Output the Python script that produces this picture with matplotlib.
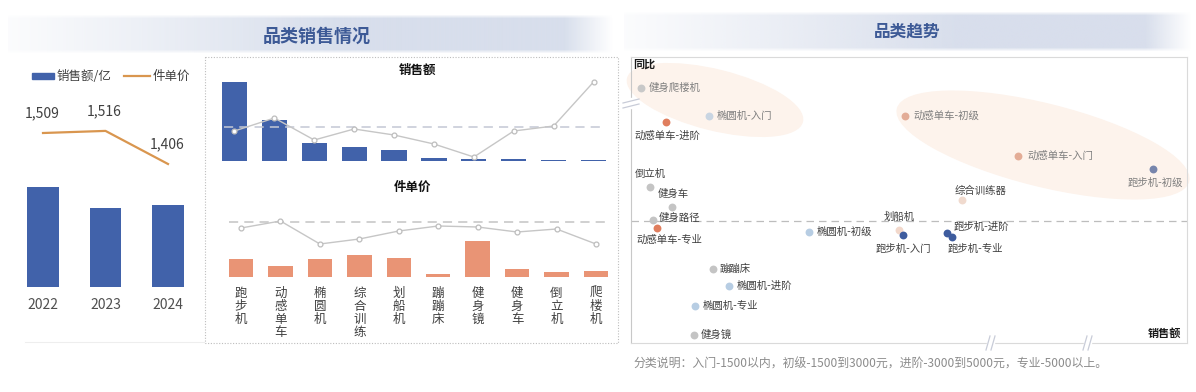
"""
Category sales dashboard: yearly totals, per-category sales/unit price, and trend scatter.
"""
import numpy as np
import matplotlib
matplotlib.use('Agg')
import matplotlib.pyplot as plt
from matplotlib.patches import Ellipse, Rectangle
from matplotlib.lines import Line2D
from matplotlib.transforms import Affine2D
from matplotlib.colors import to_rgb

plt.rcParams['font.family'] = ['Noto Sans CJK SC', 'DejaVu Sans']

# === Colors ===
BLUE = '#4162AA'
ORANGE = '#D9964F'
SALMON = '#E99475'
TITLE = '#3D5A96'
DARK = '#404040'
GREY_LINE = '#C6C6C6'

# === Data ===
years = ['2022', '2023', '2024']
year_sales = [50.0, 39.5, 41.0]          # 亿
year_price = [1509, 1516, 1406]          # 件单价

categories = ['跑步机', '动感单车', '椭圆机', '综合训练', '划船机',
              '蹦蹦床', '健身镜', '健身车', '倒立机', '爬楼机']
cat_sales = [18.7, 9.7, 4.3, 3.3, 2.6, 0.7, 0.5, 0.5, 0.35, 0.35]
cat_sales_yoy = [-4, 9, -13, -2, -8, -17, -30, -4, 1, 45]
cat_price = [2200, 1300, 2200, 2650, 2300, 380, 4300, 950, 600, 700]
cat_price_yoy = [-6, 1, -22, -17, -9, -4, -5, -10, -7, -22]

seg_names = ['健身爬楼机', '椭圆机-入门', '动感单车-进阶', '倒立机', '健身车',
             '健身路径', '动感单车-专业', '划船机', '跑步机-入门', '椭圆机-初级',
             '蹦蹦床', '椭圆机-进阶', '椭圆机-专业', '健身镜', '动感单车-初级',
             '动感单车-入门', '跑步机-初级', '综合训练器', '跑步机-进阶', '跑步机-专业']
seg_sales = [0.18, 1.40, 0.63, 0.34, 0.74, 0.40, 0.47, 4.82, 4.89, 3.20,
             1.47, 1.76, 1.15, 1.13, 4.93, 6.96, 9.39, 5.95, 5.68, 5.77]
seg_yoy = [66.5, 52.5, 49.5, 17, 7, 0.5, -3.5, -4.5, -7, -5.5,
           -24, -32.5, -42.5, -57, 52.5, 32.5, 26, 10.5, -6, -8]

# === Styles for scatter labels: (dot colour, text colour, dx, dy, ha) ===
G, LB, SA, DB = '#C4C4C4', '#B7CDE3', '#E07E5E', '#3E5C9E'
SEG_STYLE = {
    '健身爬楼机': ('#C8C8C8', '#7F7F7F', 8, 0, 'left'),
    '椭圆机-入门': ('#C9D5E2', '#7F7F7F', 8, 0, 'left'),
    '动感单车-进阶': (SA, DARK, 1, -14, 'center'),
    '倒立机': (G, DARK, 0, 13, 'center'),
    '健身车': (G, DARK, 1, 13, 'center'),
    '健身路径': (G, DARK, 5, 2, 'left'),
    '动感单车-专业': (SA, DARK, 12, -12, 'center'),
    '划船机': ('#F2D8CB', DARK, 0, 13, 'center'),
    '跑步机-入门': (DB, DARK, 1, -14, 'center'),
    '椭圆机-初级': (LB, DARK, 8, 0, 'left'),
    '蹦蹦床': (G, DARK, 7, 0, 'left'),
    '椭圆机-进阶': (LB, DARK, 8, 0, 'left'),
    '椭圆机-专业': (LB, DARK, 8, 0, 'left'),
    '健身镜': (G, DARK, 7, 0, 'left'),
    '动感单车-初级': ('#E3AC96', '#7F7F7F', 8, 0, 'left'),
    '动感单车-入门': ('#E3AC96', '#7F7F7F', 9, 0, 'left'),
    '跑步机-初级': ('#7785AC', '#7F7F7F', 2, -14, 'center'),
    '综合训练器': ('#F0DACE', DARK, 19, 9, 'center'),
    '跑步机-进阶': (DB, DARK, 7, 6, 'left'),
    '跑步机-专业': (DB, DARK, -4, -12, 'left'),
}

# === Figure ===
W, H = 1196, 392
fig = plt.figure(figsize=(W / 100, H / 100), dpi=100, facecolor='white')
PX = Affine2D().scale(1 / W, -1 / H).translate(0, 1) + fig.transFigure


def px_axes(x0, y0, x1, y1, **kw):
    return fig.add_axes([x0 / W, 1 - y1 / H, (x1 - x0) / W, (y1 - y0) / H], **kw)


def clean(ax):
    for s in ax.spines.values():
        s.set_visible(False)
    ax.set_yticks([])


# --- header bands ---
def header(x0, y0, x1, y1, text, tx, ty, size, peak):
    ax = px_axes(x0, y0, x1, y1, zorder=-5)
    n = 300
    t = np.linspace(0, 1, n)
    ax_x = np.clip(np.minimum(0.1 + t / peak, (1 - t) / 0.08), 0, 1)
    tv = np.linspace(0, 1, 40)
    ax_y = np.clip(np.minimum(tv / 0.1, (1 - tv) / 0.1), 0, 1)
    img = np.zeros((40, n, 4))
    img[..., :3] = to_rgb('#D4DBEA')
    img[..., 3] = 0.9 * np.outer(ax_y, ax_x)
    ax.imshow(img, aspect='auto', extent=(0, 1, 0, 1))
    ax.axis('off')
    fig.text(tx / W, 1 - ty / H, text, ha='center', va='center',
             fontsize=size, fontweight='bold', color=TITLE)


header(8, 14, 614, 54, '品类销售情况', 317, 36, 13, 0.6)
header(624, 11, 1192, 52, '品类趋势', 907, 32, 12, 0.65)

# --- left: yearly bars + price line ---
ax1 = px_axes(11.75, 90, 199.25, 287)
xy = np.arange(len(years))
ax1.bar(xy, year_sales, width=0.51, color=BLUE)
ax1.set_xlim(-0.5, 2.5)
ax1.set_ylim(0, 98.5)
clean(ax1)
ax1.set_xticks(xy, years)
ax1.tick_params(axis='x', length=0, pad=8, labelsize=10, labelcolor='#505050')

ax1b = ax1.twinx()
ax1b.plot(xy, year_price, color=ORANGE, lw=1.6)
ax1b.set_ylim(997, 1652)
ax1b.axis('off')
for xi, v in zip(xy, year_price):
    ax1b.annotate(f'{v:,}', (xi, v), xytext=(-1, 20), textcoords='offset pixels',
                  ha='center', va='center', fontsize=10, color=DARK)

fig.add_artist(Rectangle((32, 73), 22, 6, transform=PX, color=BLUE))
fig.text(57 / W, 1 - 76 / H, '销售额/亿', ha='left', va='center', fontsize=9, color=DARK)
fig.add_artist(Line2D([124, 150], [76, 76], transform=PX, color=ORANGE, lw=1.6))
fig.text(153 / W, 1 - 76 / H, '件单价', ha='left', va='center', fontsize=9, color=DARK)
fig.add_artist(Line2D([25, 204], [342, 342], transform=PX, color='#EEEEEE', lw=0.8))

# --- middle: per-category sales ---
xc = np.arange(len(categories))
axt = px_axes(214.5, 78, 613.5, 161)
axt.bar(xc, cat_sales, width=0.63, color=BLUE)
axt.set_xlim(-0.5, 9.5)
axt.set_ylim(0, 19.65)
clean(axt)
axt.set_xticks([])
axt2 = axt.twinx()
axt2.plot([-0.25, 9.25], [0, 0], ls=(0, (6, 4)), color='#C4C8D4', lw=1.1)
axt2.plot(xc, cat_sales_yoy, color=GREY_LINE, lw=1, marker='o', ms=3.5,
          mfc='white', mec='#BDBDBD', mew=0.9)
axt2.set_ylim(-34, 49)
axt2.axis('off')
fig.text(418 / W, 1 - 70 / H, '销售额', ha='center', va='center', fontsize=9,
         fontweight='bold', color='#111111')

# --- middle: per-category unit price ---
axb = px_axes(221.3, 200, 615.7, 277)
axb.bar(xc, cat_price, width=0.62, color=SALMON)
axb.set_xlim(-0.5, 9.5)
axb.set_ylim(0, 9240)
clean(axb)
axb.set_xticks(xc, ['\n'.join(c) for c in categories])
axb.tick_params(axis='x', length=0, pad=7, labelsize=9, labelcolor=DARK)
for lab in axb.get_xticklabels():
    lab.set_linespacing(1.0)
    lab.set_verticalalignment('top')
axb2 = axb.twinx()
axb2.plot([-0.3, 9.25], [0, 0], ls=(0, (6, 4)), color='#C4C4C4', lw=1.1)
axb2.plot(xc, cat_price_yoy, color=GREY_LINE, lw=1, marker='o', ms=3.5,
          mfc='white', mec='#BDBDBD', mew=0.9)
axb2.set_ylim(-55, 22)
axb2.axis('off')
fig.text(413 / W, 1 - 187 / H, '件单价', ha='center', va='center', fontsize=9,
         fontweight='bold', color='#111111')

fig.add_artist(Rectangle((205, 57), 413, 286, transform=PX, fill=False,
                         ls=(0, (1, 1.5)), ec='#BDBDBD', lw=0.8))

# --- right: trend scatter ---
axs = px_axes(631, 57, 1187, 343)
axs.set_xlim(0, 10)
axs.set_ylim(-61, 82)
axs.set_xticks([])
axs.set_yticks([])
for s in axs.spines.values():
    s.set_color('#DADADA')
    s.set_linewidth(0.8)
axs.spines['left'].set_color('#C8C8C8')
axs.axhline(0, ls=(0, (6, 4)), color='#BDBDBD', lw=0.9, zorder=1)

for (cx, cy, w, h) in [(715, 100, 180, 60), (1043, 145, 300, 82)]:
    axs.add_patch(Ellipse((cx, cy), w, h, angle=14, transform=PX,
                          color='#FDF3EC', zorder=0, clip_on=False))

for name, sx, sy in zip(seg_names, seg_sales, seg_yoy):
    col, tcol, dx, dy, ha = SEG_STYLE[name]
    axs.scatter(sx, sy, s=32, color=col, zorder=3, linewidths=0)
    axs.annotate(name, (sx, sy), xytext=(dx, dy), textcoords='offset pixels',
                 ha=ha, va='center', fontsize=7.5, color=tcol, zorder=4)

axs.text(0.004, 0.975, '同比', transform=axs.transAxes, ha='left', va='center',
         fontsize=8, fontweight='bold', color='#1A1A1A')
axs.text(0.99, 0.035, '销售额', transform=axs.transAxes, ha='right', va='center',
         fontsize=8, fontweight='bold', color='#1A1A1A')

# axis break marks
fig.add_artist(Rectangle((626, 98), 10, 10, transform=PX, color='white', zorder=5))
for off in (0, 5):
    fig.add_artist(Line2D([623, 639], [103 + off, 99 + off], transform=PX,
                          color='#C8CCD8', lw=0.9, zorder=6))
for bx in (990, 1087):
    fig.add_artist(Rectangle((bx - 3, 340), 7, 6, transform=PX, color='white', zorder=5))
    for off in (0, 5):
        fig.add_artist(Line2D([bx - 4 + off, bx + off], [350, 336], transform=PX,
                              color='#C8CCD8', lw=0.9, zorder=6))

fig.text(633 / W, 1 - 364 / H,
         '分类说明：入门-1500以内，初级-1500到3000元，进阶-3000到5000元，专业-5000以上。',
         ha='left', va='center', fontsize=8.6, color='#8C8C8C')

fig.savefig('out.png', dpi=100, facecolor='white')
plt.close(fig)
